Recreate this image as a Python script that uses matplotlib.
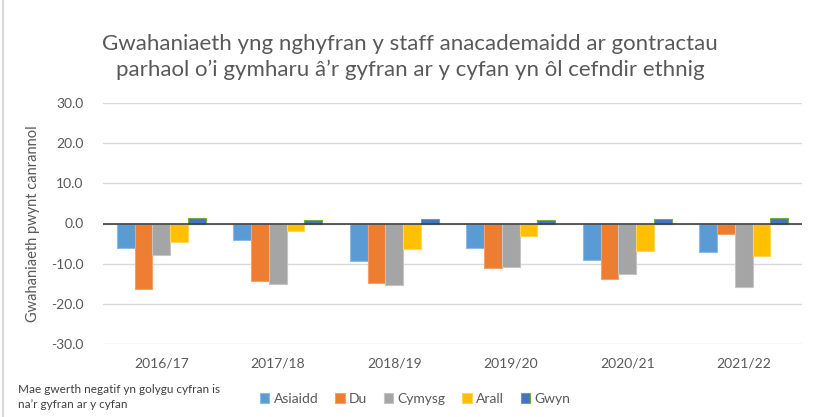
import matplotlib
matplotlib.use("Agg")
import matplotlib.pyplot as plt
import numpy as np

plt.rcParams['font.family'] = ['Lato', 'DejaVu Sans']

years = ["2016/17", "2017/18", "2018/19", "2019/20", "2020/21", "2021/22"]
series_names = ["Asiaidd", "Du", "Cymysg", "Arall", "Gwyn"]
asiaidd = [-6.2, -4.2, -9.3, -6.2, -9.2, -7.0]
du = [-16.4, -14.2, -14.8, -11.1, -13.9, -2.6]
cymysg = [-7.9, -15.1, -15.2, -10.9, -12.6, -15.7]
arall = [-4.5, -1.9, -6.4, -3.2, -6.9, -8.1]
gwyn = [1.35, 0.75, 1.1, 0.75, 1.0, 1.35]
values = [asiaidd, du, cymysg, arall, gwyn]
yticks = [30, 20, 10, 0, -10, -20, -30]

colors = ["#5B9BD5", "#ED7D31", "#A5A5A5", "#FFC000", "#4472C4"]
edges = ["#8DB9E3", "#F2A06E", "#C4C4C4", "#FFD35C", "#70AD47"]

fig = plt.figure(figsize=(8.15, 4.17), dpi=100)
ax = fig.add_axes([103/815, 1 - 344/417, (802-103)/815, (344-103)/417])

x = np.arange(len(years))
bw = 0.153
for i, (name, vals) in enumerate(zip(series_names, values)):
    ax.bar(x + (i - 2) * bw, vals, width=bw, color=colors[i], edgecolor=edges[i],
           linewidth=0.8, label=name, zorder=3)

ax.set_xlim(-0.5, len(years) - 0.5)
ax.set_ylim(-30, 30)
ax.set_yticks(yticks)
ax.set_yticklabels([f"{v:.1f}" for v in yticks])
ax.set_xticks(x)
ax.set_xticklabels(years)
ax.tick_params(axis='both', length=0, labelsize=10, colors="#595959")
ax.tick_params(axis='x', pad=10)
ax.tick_params(axis='y', pad=14)
ax.grid(axis='y', color="#D9D9D9", linewidth=1, zorder=0)
for s in ax.spines.values():
    s.set_visible(False)
ax.axhline(0, color="#404040", linewidth=1.2, zorder=4)

ax.set_ylabel("Gwahaniaeth pwynt canrannol", fontsize=10.5, color="#595959", labelpad=8)

fig.text(410/815, 1 - 57/417,
         "Gwahaniaeth yng nghyfran y staff anacademaidd ar gontractau\nparhaol o\u2019i gymharu \u00e2\u2019r gyfran ar y cyfan yn \u00f4l cefndir ethnig",
         ha='center', va='center', fontsize=16, color="#595959", linespacing=1.3)

fig.text(18/815, 1 - 397/417, "Mae gwerth negatif yn golygu cyfran is\nna\u2019r gyfran ar y cyfan",
         ha='left', va='center', fontsize=8.5, color="#404040", linespacing=1.4)

leg = fig.legend(loc='center', bbox_to_anchor=(415/815, 1 - 399/417), ncol=5, frameon=False,
                 fontsize=10, handlelength=0.7, handleheight=0.7, handletextpad=0.3,
                 columnspacing=1.2, labelcolor="#595959")

fig.add_artist(plt.Line2D([3/815, 3/815], [0, 1], color="#D9D9D9", linewidth=1.5))

fig.savefig("out.png", dpi=100, facecolor="white")
